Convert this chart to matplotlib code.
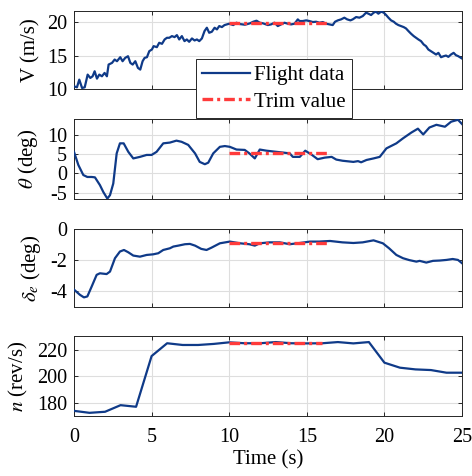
import matplotlib
matplotlib.use("Agg")
import matplotlib.pyplot as plt
from matplotlib.lines import Line2D

plt.rcParams['font.family'] = ['Liberation Serif', 'DejaVu Serif']
plt.rcParams['mathtext.fontset'] = 'stix'
plt.rcParams['axes.unicode_minus'] = False

# ---------------- data ----------------
t_V = [0.00, 0.19, 0.34, 0.52, 0.69, 0.88, 1.05, 1.20, 1.33, 1.48, 1.63, 1.80, 1.97, 2.12, 2.23,
       2.45, 2.62, 2.77, 2.98, 3.13, 3.30, 3.48, 3.63, 3.78, 3.95, 4.12, 4.27, 4.42, 4.55, 4.70,
       4.85, 5.02, 5.13, 5.34, 5.49, 5.67, 5.84, 5.99, 6.14, 6.31, 6.48, 6.63, 6.78, 6.95, 7.12,
       7.27, 7.42, 7.60, 7.77, 7.92, 8.07, 8.24, 8.41, 8.56, 8.71, 8.88, 9.06, 9.21, 9.36, 9.53,
       9.70, 9.85, 10.00, 10.26, 10.47, 10.69, 11.01, 11.33, 11.55, 11.76, 11.97, 12.19, 12.49,
       12.70, 12.92, 13.13, 13.35, 13.56, 13.78, 13.99, 14.21, 14.42, 14.53, 14.74, 14.96, 15.17,
       15.39, 15.60, 15.82, 16.03, 16.25, 16.46, 16.67, 16.82, 17.00, 17.21, 17.42, 17.60, 17.81,
       17.96, 18.18, 18.39, 18.61, 18.82, 18.97, 19.14, 19.31, 19.46, 19.61, 19.79, 19.96, 20.11,
       20.26, 20.43, 20.60, 20.75, 20.90, 21.07, 21.24, 21.39, 21.55, 21.72, 21.89, 22.04, 22.19,
       22.36, 22.53, 22.68, 22.83, 23.00, 23.18, 23.33, 23.48, 23.65, 23.82, 23.97, 24.12, 24.29,
       24.46, 24.61, 24.76, 24.94, 25.00]
V = [10.40, 10.25, 11.40, 10.15, 10.25, 12.15, 11.65, 11.90, 12.65, 11.55, 12.15, 11.90, 12.40,
     11.90, 13.65, 13.90, 14.40, 14.15, 14.75, 14.15, 14.65, 14.90, 13.90, 13.65, 14.15, 13.15,
     12.90, 14.15, 14.65, 14.75, 15.65, 15.90, 16.40, 16.25, 16.90, 16.75, 17.40, 17.65, 17.65,
     17.90, 17.75, 18.05, 17.40, 17.90, 17.15, 17.40, 17.05, 17.55, 17.25, 17.40, 17.15, 17.55,
     18.65, 19.15, 18.40, 18.55, 19.15, 18.90, 19.40, 19.25, 19.55, 19.65, 19.75, 19.55, 19.90,
     19.70, 19.60, 19.80, 20.05, 20.20, 19.90, 19.80, 19.55, 19.65, 19.90, 19.40, 19.65, 19.90,
     19.75, 19.65, 19.75, 20.40, 20.15, 20.15, 20.25, 20.15, 20.00, 20.05, 19.90, 20.00, 19.75,
     19.65, 19.55, 20.05, 20.25, 20.40, 20.65, 20.40, 20.25, 20.40, 20.75, 20.65, 20.90, 21.40,
     21.25, 21.05, 21.40, 21.55, 21.25, 21.55, 21.40, 21.05, 20.65, 20.25, 20.05, 19.75, 19.55,
     19.40, 19.25, 19.05, 18.65, 18.25, 17.90, 17.65, 17.40, 17.15, 16.65, 16.40, 15.90, 15.65,
     15.40, 15.15, 15.40, 14.75, 14.90, 15.00, 14.80, 15.15, 15.40, 15.05, 14.90, 14.65, 14.55]

t_theta = [0.00, 0.28, 0.60, 0.86, 1.14, 1.35, 1.67, 1.89, 2.15, 2.32, 2.53, 2.75, 2.96, 3.20,
           3.50, 3.82, 4.25, 4.68, 5.00, 5.32, 5.75, 6.18, 6.60, 6.93, 7.36, 7.80, 8.10, 8.43,
           8.65, 8.97, 9.40, 9.72, 10.04, 10.47, 11.00, 11.30, 11.65, 11.97, 12.40, 13.05, 13.50,
           13.90, 14.10, 14.55, 14.90, 15.30, 15.70, 16.15, 16.60, 16.90, 17.30, 18.00, 18.30,
           18.50, 18.85, 19.30, 19.70, 20.13, 20.77, 21.20, 21.74, 22.16, 22.50, 22.90, 23.35,
           23.90, 24.30, 24.74, 25.00]
theta = [5.6, 2.2, -0.4, -0.9, -0.9, -1.0, -3.0, -4.8, -6.5, -5.6, -2.6, 5.2, 7.8, 7.8, 5.6,
         3.9, 4.3, 4.8, 4.8, 5.6, 7.8, 8.0, 8.5, 8.2, 7.4, 5.2, 3.0, 2.4, 2.8, 5.2, 6.9, 7.1,
         6.9, 6.2, 6.1, 5.2, 3.9, 6.2, 5.9, 5.6, 5.4, 5.2, 4.3, 4.3, 5.9, 4.9, 3.7, 4.1, 4.3,
         3.6, 3.3, 3.0, 3.2, 2.9, 3.5, 3.9, 4.3, 6.5, 7.8, 9.1, 10.6, 11.6, 10.1, 11.9, 12.6,
         12.1, 13.4, 13.9, 12.8]

t_de = [0.00, 0.39, 0.64, 0.86, 1.14, 1.46, 1.67, 2.10, 2.32, 2.64, 2.96, 3.22, 3.50, 3.82,
        4.25, 4.68, 5.10, 5.43, 5.75, 6.18, 6.40, 6.72, 7.15, 7.47, 7.80, 8.20, 8.54, 8.86,
        9.40, 10.04, 10.70, 11.30, 11.65, 11.97, 12.60, 13.26, 13.90, 14.55, 15.20, 15.80,
        16.50, 17.30, 18.00, 18.60, 19.30, 19.90, 20.30, 20.77, 21.20, 21.60, 22.06, 22.27,
        22.70, 23.13, 23.56, 24.00, 24.40, 24.74, 25.00]
delta_e = [-3.90, -4.24, -4.40, -4.34, -3.70, -2.95, -2.85, -2.90, -2.74, -1.88, -1.45, -1.35,
           -1.50, -1.71, -1.78, -1.67, -1.63, -1.56, -1.35, -1.24, -1.13, -1.07, -0.98, -0.96,
           -1.07, -1.28, -1.35, -1.20, -0.92, -0.81, -0.92, -0.98, -1.07, -0.92, -0.86, -0.86,
           -0.98, -0.90, -0.81, -0.81, -0.77, -0.86, -0.90, -0.86, -0.73, -0.92, -1.24, -1.67,
           -1.88, -2.00, -2.10, -2.05, -2.16, -2.05, -2.03, -1.99, -1.93, -1.99, -2.20]

t_n = [0, 1, 2, 3, 4, 5, 6, 7, 8, 9, 10, 11, 12, 13, 14, 15, 16, 17, 18, 19, 20, 21, 22, 23,
       24, 25]
n_rev = [173.9, 172.4, 173.2, 178.2, 177.0, 215.4, 225.1, 223.8, 223.8, 224.6, 225.8, 225.1,
         225.1, 226.0, 225.1, 225.0, 225.1, 226.0, 225.0, 226.0, 210.4, 206.6, 205.3, 204.8,
         202.8, 202.8]

# trim values: (start time, end time, value)
trim_t = [10.0, 16.5]
trim_V = 19.8
trim_theta = 5.3
trim_de = -0.9
trim_n_t = [10.0, 16.0]
trim_n = 225.0

ylabels = ['V (m/s)', r'$\theta$ (deg)', r'$\delta_e$ (deg)', r'$n$ (rev/s)']
yticks = [[10, 15, 20], [-5, 0, 5, 10], [-4, -2, 0], [180, 200, 220]]
ylims = [(10, 21.65), (-6.6, 14.1), (-5, 0), (170, 230.6)]
xticks = [0, 5, 10, 15, 20, 25]

# ---------------- style ----------------
navy = '#0F3A88'
red = '#FF3B3B'
trim_ls = (0, (3.2, 1.2, 0.9, 1.2))
fs = 14.5

fig = plt.figure(figsize=(4.72, 4.76), dpi=100)
left, width = 74 / 472, 388 / 472
tops = [11, 119, 229, 336]
bottoms = [89, 199, 306.7, 416]
axes = []
for tp, bt in zip(tops, bottoms):
    ax = fig.add_axes([left, 1 - bt / 476, width, (bt - tp) / 476])
    axes.append(ax)

series = [(t_V, V, trim_t, trim_V), (t_theta, theta, trim_t, trim_theta),
          (t_de, delta_e, trim_t, trim_de), (t_n, n_rev, trim_n_t, trim_n)]

for i, (ax, (tt, yy, tr_t, tr_v)) in enumerate(zip(axes, series)):
    ax.plot(tt, yy, color=navy, lw=1.6, zorder=3)
    ax.plot(tr_t, [tr_v, tr_v], color=red, lw=2.4, ls=trim_ls, zorder=4)
    ax.set_xlim(0, 25)
    ax.set_ylim(*ylims[i])
    ax.set_xticks(xticks)
    ax.set_yticks(yticks[i])
    ax.grid(True, color='#DEDEDE', lw=0.8)
    ax.set_axisbelow(True)
    ax.tick_params(direction='in', top=True, right=True, length=3, width=0.7,
                   labelsize=fs, colors='#262626', labelcolor='black')
    ax.tick_params(axis='y', pad=5)
    ax.tick_params(axis='x', pad=9)
    for s in ax.spines.values():
        s.set_color('#262626')
        s.set_linewidth(0.7)
    ax.set_ylabel(ylabels[i], fontsize=15, labelpad=5)
    if i < 3:
        ax.tick_params(labelbottom=False)

axes[-1].set_xlabel('Time (s)', fontsize=15, labelpad=2)

handles = [Line2D([], [], color=navy, lw=1.6),
           Line2D([], [], color=red, lw=2.4, ls=trim_ls)]
leg = fig.legend(handles, ['Flight data', 'Trim value'], loc='upper left',
                 bbox_to_anchor=(196 / 472, 1 - 59 / 476), borderaxespad=0,
                 fontsize=15, frameon=True, fancybox=False, handlelength=2.3,
                 handletextpad=0.2, borderpad=0.3, labelspacing=0.35)
leg.get_frame().set_edgecolor('#262626')
leg.get_frame().set_linewidth(0.7)
leg.get_frame().set_alpha(1)
leg.set_zorder(10)

fig.savefig('out.png', dpi=100)
